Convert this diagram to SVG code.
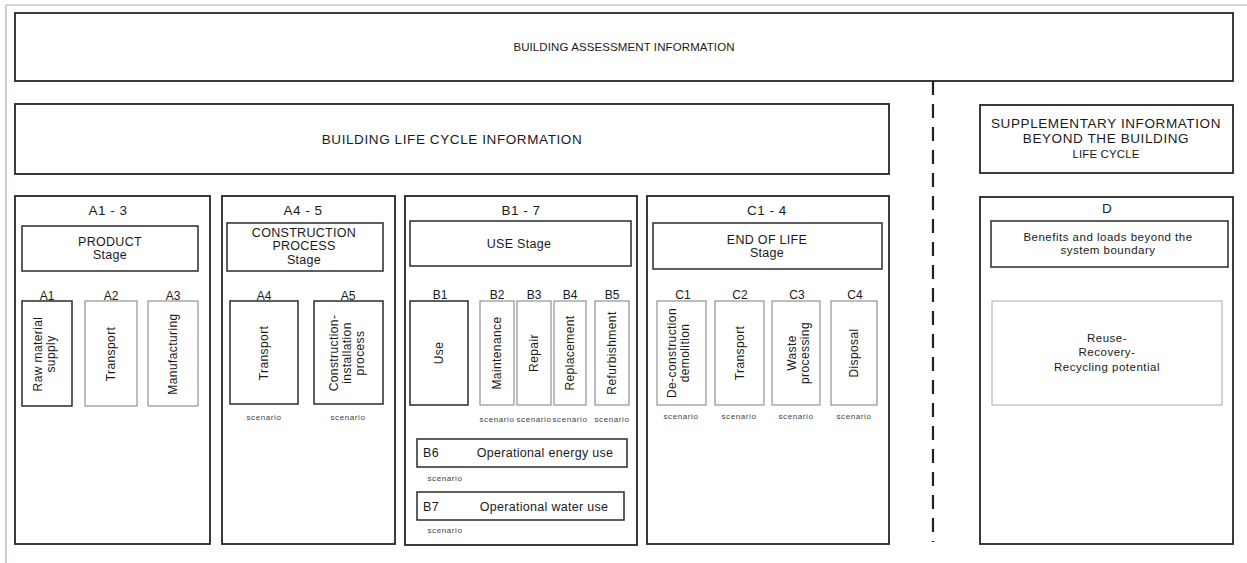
<svg xmlns="http://www.w3.org/2000/svg" width="1247" height="563" viewBox="0 0 1247 563">
<style>
text{font-family:"Liberation Sans",Arial,sans-serif;fill:#1a1a1a;text-anchor:middle}
.box{fill:#fff;stroke:#262626;stroke-width:1.8}
.ibox{fill:#fff;stroke:#2a2a2a;stroke-width:1.5}
.lbox{fill:#fff;stroke:#888;stroke-width:1.1}
.vlbox{fill:#fff;stroke:#aaa;stroke-width:1}
.t1{font-size:11.5px;letter-spacing:0.1px}
.t2{font-size:13.5px;letter-spacing:0.6px}
.code{font-size:13.5px;letter-spacing:0.5px}
.sn{font-size:12.5px;letter-spacing:0.3px}
.ic{font-size:12px}
.rot{font-size:12px;letter-spacing:0.4px}
.sc{font-size:8px;letter-spacing:0.6px;fill:#444}
.op{font-size:12.5px;letter-spacing:0.3px}
.sm{font-size:11.5px;letter-spacing:0.5px}
</style>
<rect width="1247" height="563" fill="#fff"/>
<g id="frame">
<line x1="6" y1="5" x2="1247" y2="5" stroke="#b5a9a3" stroke-width="1.2"/>
<line x1="6" y1="5" x2="6" y2="563" stroke="#b5a9a3" stroke-width="1.2"/>
</g>
<g id="building-assessment">
<rect class="box" x="15" y="13" width="1218" height="68"/>
<text class="t1" x="624" y="51">BUILDING ASSESSMENT INFORMATION</text>
</g>
<g id="life-cycle">
<rect class="box" x="15" y="104" width="874" height="70"/>
<text class="t2" x="452" y="144">BUILDING LIFE CYCLE INFORMATION</text>
</g>
<g id="supplementary">
<rect class="box" x="980" y="105" width="253" height="68"/>
<text class="t2" x="1106" y="128">SUPPLEMENTARY INFORMATION</text>
<text class="t2" x="1106" y="143">BEYOND THE BUILDING</text>
<text class="t1" x="1106" y="158">LIFE CYCLE</text>
</g>
<g id="connectors">
<line x1="933" y1="81" x2="933" y2="542" stroke="#222" stroke-width="2.2" stroke-dasharray="14 9"/>
</g>
<g id="stage-A1-3">
<rect class="box" x="15" y="196" width="195" height="348"/>
<text class="code" x="108" y="215">A1 - 3</text>
<rect class="ibox" x="22" y="226" width="176" height="45"/>
<text class="sn" x="110" y="246">PRODUCT</text>
<text class="sn" x="110" y="259">Stage</text>
<text class="ic" x="47" y="300">A1</text>
<text class="ic" x="111" y="300">A2</text>
<text class="ic" x="173" y="300">A3</text>
<rect class="ibox" x="22" y="301" width="50" height="105"/>
<rect class="lbox" x="85" y="301" width="52" height="105"/>
<rect class="lbox" x="148" y="301" width="50" height="105"/>
<text class="rot" transform="translate(42,354) rotate(-90)">Raw material</text>
<text class="rot" transform="translate(55,354) rotate(-90)">supply</text>
<text class="rot" transform="translate(115,354) rotate(-90)">Transport</text>
<text class="rot" transform="translate(177,354) rotate(-90)">Manufacturing</text>
</g>
<g id="stage-A4-5">
<rect class="box" x="222" y="196" width="173" height="348"/>
<text class="code" x="303" y="215">A4 - 5</text>
<rect class="ibox" x="227" y="223" width="156" height="48"/>
<text class="sn" x="304" y="237">CONSTRUCTION</text>
<text class="sn" x="304" y="250">PROCESS</text>
<text class="sn" x="304" y="264">Stage</text>
<text class="ic" x="264" y="300">A4</text>
<text class="ic" x="348" y="300">A5</text>
<rect class="ibox" x="230" y="301" width="68" height="103"/>
<rect class="ibox" x="314" y="301" width="69" height="103"/>
<text class="rot" transform="translate(268,353) rotate(-90)">Transport</text>
<text class="rot" transform="translate(338,353) rotate(-90)">Construction-</text>
<text class="rot" transform="translate(351,353) rotate(-90)">installation</text>
<text class="rot" transform="translate(364,353) rotate(-90)">process</text>
<text class="sc" x="264" y="420">scenario</text>
<text class="sc" x="348" y="420">scenario</text>
</g>
<g id="stage-B1-7">
<rect class="box" x="405" y="196" width="232" height="349"/>
<text class="code" x="521" y="215">B1 - 7</text>
<rect class="ibox" x="410" y="221" width="221" height="45"/>
<text class="sn" x="519" y="248">USE Stage</text>
<text class="ic" x="440" y="299">B1</text>
<text class="ic" x="497" y="299">B2</text>
<text class="ic" x="534" y="299">B3</text>
<text class="ic" x="570" y="299">B4</text>
<text class="ic" x="612" y="299">B5</text>
<rect class="ibox" x="410" y="301" width="58" height="104"/>
<rect class="lbox" x="480" y="301" width="34" height="104"/>
<rect class="lbox" x="517" y="301" width="34" height="104"/>
<rect class="lbox" x="554" y="301" width="32" height="104"/>
<rect class="lbox" x="595" y="301" width="34" height="104"/>
<text class="rot" transform="translate(443,353) rotate(-90)">Use</text>
<text class="rot" transform="translate(501,353) rotate(-90)">Maintenance</text>
<text class="rot" transform="translate(538,353) rotate(-90)">Repair</text>
<text class="rot" transform="translate(574,353) rotate(-90)">Replacement</text>
<text class="rot" transform="translate(616,353) rotate(-90)">Refurbishment</text>
<text class="sc" x="497" y="422">scenario</text>
<text class="sc" x="534" y="422">scenario</text>
<text class="sc" x="570" y="422">scenario</text>
<text class="sc" x="612" y="422">scenario</text>
<rect class="ibox" x="417" y="439" width="210" height="28"/>
<text class="op" x="423" y="457" style="text-anchor:start">B6</text>
<text class="op" x="545" y="457">Operational energy use</text>
<text class="sc" x="445" y="481">scenario</text>
<rect class="ibox" x="417" y="492" width="207" height="28"/>
<text class="op" x="423" y="511" style="text-anchor:start">B7</text>
<text class="op" x="544" y="511">Operational water use</text>
<text class="sc" x="445" y="533">scenario</text>
</g>
<g id="stage-C1-4">
<rect class="box" x="647" y="196" width="242" height="348"/>
<text class="code" x="767" y="215">C1 - 4</text>
<rect class="ibox" x="653" y="223" width="229" height="46"/>
<text class="sn" x="767" y="244">END OF LIFE</text>
<text class="sn" x="767" y="257">Stage</text>
<text class="ic" x="683" y="299">C1</text>
<text class="ic" x="740" y="299">C2</text>
<text class="ic" x="797" y="299">C3</text>
<text class="ic" x="855" y="299">C4</text>
<rect class="lbox" x="657" y="301" width="49" height="104"/>
<rect class="lbox" x="715" y="301" width="49" height="104"/>
<rect class="lbox" x="772" y="301" width="48" height="104"/>
<rect class="lbox" x="831" y="301" width="46" height="104"/>
<text class="rot" transform="translate(676,353) rotate(-90)">De-construction</text>
<text class="rot" transform="translate(689,353) rotate(-90)">demolition</text>
<text class="rot" transform="translate(744,353) rotate(-90)">Transport</text>
<text class="rot" transform="translate(796,353) rotate(-90)">Waste</text>
<text class="rot" transform="translate(809,353) rotate(-90)">processing</text>
<text class="rot" transform="translate(858,353) rotate(-90)">Disposal</text>
<text class="sc" x="681" y="419">scenario</text>
<text class="sc" x="739" y="419">scenario</text>
<text class="sc" x="796" y="419">scenario</text>
<text class="sc" x="854" y="419">scenario</text>
</g>
<g id="stage-D">
<rect class="box" x="980" y="197" width="253" height="347"/>
<text class="code" x="1107" y="213">D</text>
<rect class="ibox" x="991" y="221" width="237" height="46"/>
<text class="sm" x="1108" y="241">Benefits and loads beyond the</text>
<text class="sm" x="1108" y="254">system boundary</text>
<rect class="vlbox" x="992" y="301" width="230" height="104"/>
<text class="sm" x="1107" y="342">Reuse-</text>
<text class="sm" x="1107" y="356">Recovery-</text>
<text class="sm" x="1107" y="371">Recycling potential</text>
</g>
</svg>
